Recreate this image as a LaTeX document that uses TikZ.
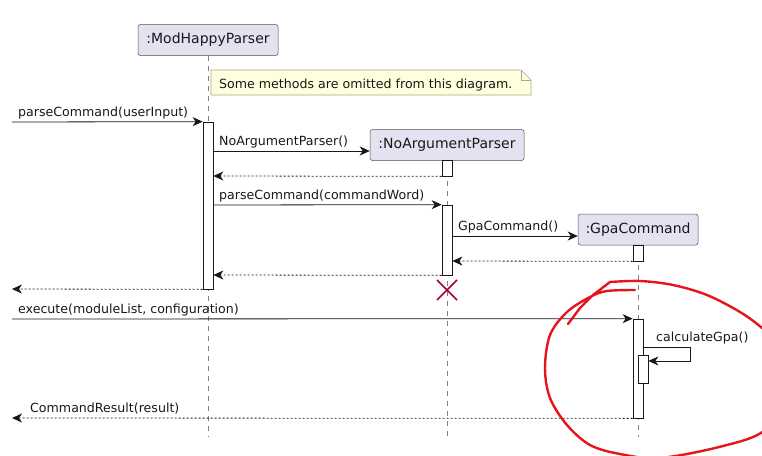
\documentclass[tikz,border=0pt]{standalone}
\usepackage{fontspec}
\setmainfont{DejaVu Sans}
\usetikzlibrary{arrows.meta,calc}
\definecolor{partfill}{HTML}{E2E2F0}
\definecolor{ink}{HTML}{181818}
\definecolor{notefill}{HTML}{FEFFDD}
\definecolor{notedraw}{HTML}{A8A888}
\definecolor{killcol}{HTML}{A80036}
\definecolor{scribble}{HTML}{E8141C}
\tikzset{
  part/.style={draw=ink!75, fill=partfill, rounded corners=2.5pt, minimum height=31pt,
    inner sep=0pt, line width=0.5pt, font=\fontsize{14}{16}\selectfont, text=ink},
  life/.style={draw=ink!55, line width=0.6pt, dash pattern=on 5pt off 5pt},
  actbox/.style={draw=ink, fill=white, line width=0.7pt, minimum width=10pt, inner sep=0pt},
  msg/.style={draw=ink, line width=0.8pt, -{Stealth[length=10pt,width=9pt,inset=3pt]}},
  ret/.style={msg, dash pattern=on 2pt off 2pt},
  lbl/.style={anchor=base west, inner sep=0pt, font=\fontsize{12.6}{15}\selectfont, text=ink},
  notebox/.style={draw=notedraw, fill=notefill, line width=0.6pt},
}
\begin{document}
\begin{tikzpicture}[x=1pt,y=-1pt]
\useasboundingbox (0,0) rectangle (762,455);

% participants
\node[part, minimum width=140pt] (mhp) at (208,40) {:ModHappyParser};
\node[part, minimum width=154pt] (nap) at (447,145) {:NoArgumentParser};
\node[part, minimum width=120pt] (gpc) at (638,229.5) {:GpaCommand};

% lifelines
\coordinate (mhpend) at (208,437);
\coordinate (napend) at (447,437);
\coordinate (gpcend) at (638,437);
\draw[life] (mhp.south) -- (mhpend);
\draw[life] (nap.south) -- (napend);
\draw[life] (gpc.south) -- (gpcend);

% note
\draw[notebox] (211,70) -- (521,70) -- (531,80) -- (531,95) -- (211,95) -- cycle;
\draw[notebox, fill=none] (521,70) -- (521,80) -- (531,80);
\node[lbl] (note) at (219,88) {Some methods are omitted from this diagram.};

% activations
\node[actbox, minimum height=167pt] (a1) at (208,205.5) {};
\node[actbox, minimum height=16pt] (a2) at (447,168) {};
\node[actbox, minimum height=70pt] (a3) at (447,240) {};
\node[actbox, minimum height=16pt] (a4) at (638,253) {};
\node[actbox, minimum height=99pt] (a5) at (638,368.5) {};
\node[actbox, minimum height=28pt] (a6) at (643,369) {};

% free ends
\coordinate (in1) at (12,122);
\coordinate (out1) at (12,289);
\coordinate (in2) at (12,319);
\coordinate (out2) at (12,418);
\coordinate (selfA) at (690,347);
\coordinate (selfB) at (690,361);

% messages
\draw[msg] (in1) -- (a1.north west);
\node[lbl] (l1) at (18,116) {parseCommand(userInput)};

\draw[msg] (a1.east |- 0,151) -- (nap.west |- 0,151);
\node[lbl] (l2) at (219,145) {NoArgumentParser()};

\draw[ret] (a2.south west) -- (a1.east |- 0,176);

\draw[msg] (a1.east |- 0,205) -- (a3.north west);
\node[lbl] (l3) at (219,199) {parseCommand(commandWord)};

\draw[msg] (a3.east |- 0,236) -- (gpc.west |- 0,236);
\node[lbl] (l4) at (458,230) {GpaCommand()};

\draw[ret] (a4.south west) -- (a3.east |- 0,261);
\draw[ret] (a3.south west) -- (a1.east |- 0,275);

% destroy
\coordinate (kill) at (447,290);
\draw[killcol, line width=1.6pt] ($(kill)+(-10,-10)$) -- ($(kill)+(10,10)$)
  ($(kill)+(-10,10)$) -- ($(kill)+(10,-10)$);

\draw[ret] (a1.south west) -- (out1);

\draw[msg] (in2) -- (a5.north west);
\node[lbl] (l5) at (18,313) {execute(moduleList, configuration)};

\draw[msg] (a5.east |- selfA) -- (selfA) -- (selfB) -- (a6.east |- selfB);
\node[lbl] (l6) at (656,341) {calculateGpa()};

\draw[ret] (a5.south west) -- (out2);
\node[lbl] (l7) at (30,412) {CommandResult(result)};

% red hand-drawn circle
\begin{scope}
\clip (0,0) rectangle (762,455);
\draw[scribble, line width=2.4pt, line cap=round, line join=round]
  plot[smooth, tension=0.55] coordinates {
    (635,290) (607,291) (590,297) (567,312) (550,335) (545,368) (550,398)
    (567,425) (590,445) (620,454) (660,458) (723,446) (765,430) (790,390)
    (785,350) (762,328) (740,312) (707,295) (673,285) (640,281) (610,282)}
  -- (593,295) -- (580,308) -- (568,324);
\end{scope}
\end{tikzpicture}
\end{document}
